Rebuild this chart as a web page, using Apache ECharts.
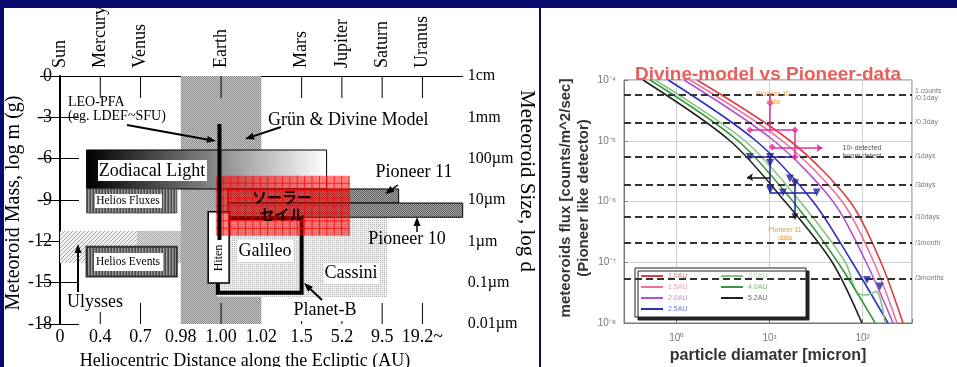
<!DOCTYPE html>
<html>
<head>
<meta charset="utf-8">
<script src="https://cdn.jsdelivr.net/npm/echarts@6/dist/echarts.min.js"></script>
<style>
html, body { margin: 0; padding: 0; background: #fff; }
#wrap { position: relative; width: 957px; height: 367px; overflow: hidden; background: #fff; }
.navy { position: absolute; background: #0a0a6e; z-index: 5; }
#left-chart { position: absolute; left: 0; top: 0; width: 539px; height: 367px; }
#right-chart { position: absolute; left: 541px; top: 0; width: 416px; height: 367px; }
</style>
</head>
<body>
<div id="wrap">
  <div id="left-chart"></div>
  <div id="right-chart"></div>
  <div class="navy" style="left:0;top:0;width:957px;height:8px;"></div>
  <div class="navy" style="left:0;top:0;width:4px;height:367px;"></div>
  <div class="navy" style="left:539px;top:0;width:2px;height:367px;"></div>
</div>
<script>
// 左右两张图
const leftChart = echarts.init(document.getElementById('left-chart'));
const rightChart = echarts.init(document.getElementById('right-chart'));

// ---------- left: meteoroid environment map ----------
const distLabels = ['0', '0.4', '0.7', '0.98', '1.00', '1.02', '1.5', '5.2', '9.5', '19.2~', ''];
const planetLabels = ['Sun', 'Mercury', 'Venus', '', 'Earth', '', 'Mars', 'Jupiter', 'Saturn', 'Uranus', ''];
const massValues = [0, -3, -6, -9, -12, -15, -18];
const sizeLabels = ['1cm', '1mm', '100µm', '10µm', '1µm', '0.1µm', '0.01µm'];
const tickPos = [1, 2, 4, 6, 7, 8, 9];

// regions: [x0, x1, yTop, yBottom] in (distance index, log m)
const earthBand = [3.00, 5.00, 0.00, -18.00];
const ulysses = [0.00, 1.91, -11.25, -13.57];
const galileo = [1.91, 7.08, -11.25, -13.57];
const cassini = [3.90, 8.12, -10.30, -16.04];
const zodiacal = [0.66, 6.62, -5.37, -8.20];
const heliosFlux = [0.66, 2.90, -8.20, -9.94];
const heliosEvent = [0.66, 2.90, -12.39, -14.56];
const pioneer11 = [4.17, 8.41, -8.20, -9.22];
const pioneer10 = [4.17, 10.00, -9.22, -10.25];
const planetB = [3.92, 6.00, -10.33, -15.73];
const hiten = [3.68, 4.20, -9.85, -15.02];
const solarSail = [3.87, 7.19, -7.24, -11.59];
const leoPfa = [3.96, -3.48, -11.90]; // x, yTop, yBottom

const serif = '"Liberation Serif", "DejaVu Serif", serif';

function pattern(size, paint) {
    const c = document.createElement('canvas');
    c.width = size;
    c.height = size;
    paint(c.getContext('2d'));
    return { image: c, repeat: 'repeat' };
}
function dots(light, dark, both) {
    return pattern(2, function (ctx) {
        ctx.fillStyle = light;
        ctx.fillRect(0, 0, 2, 2);
        ctx.fillStyle = dark;
        ctx.fillRect(0, 0, 1, 1);
        if (both) ctx.fillRect(1, 1, 1, 1);
    });
}
const stripes = pattern(3, function (ctx) {
    ctx.fillStyle = '#4a4a4a'; ctx.fillRect(0, 0, 1, 3);
    ctx.fillStyle = '#9c9c9c'; ctx.fillRect(1, 0, 1, 3);
    ctx.fillStyle = '#6c6c6c'; ctx.fillRect(2, 0, 1, 3);
});
const hatch = pattern(4, function (ctx) {
    ctx.fillStyle = '#f2f2f2'; ctx.fillRect(0, 0, 4, 4);
    ctx.fillStyle = '#a8a8a8';
    for (let i = 0; i < 4; i++) ctx.fillRect(3 - i, i, 1, 1);
});

function box(region, style, z) {
    return {
        type: 'custom', z: z, silent: true, clip: false,
        renderItem: function (params, api) {
            const a = api.coord([api.value(0), api.value(2)]);
            const b = api.coord([api.value(1), api.value(3)]);
            return {
                type: 'rect',
                shape: { x: a[0], y: a[1], width: b[0] - a[0], height: b[1] - a[1] },
                style: style
            };
        },
        data: [region]
    };
}

const sailSeries = {
    type: 'custom', z: 12, silent: true, clip: false,
    renderItem: function (params, api) {
        const a = api.coord([api.value(0), api.value(2)]);
        const b = api.coord([api.value(1), api.value(3)]);
        const kids = [{
            type: 'rect',
            shape: { x: a[0], y: a[1], width: b[0] - a[0], height: b[1] - a[1] },
            style: { fill: 'rgba(255,0,0,0.5)' }
        }];
        for (let x = a[0] + 7.4; x < b[0]; x += 7.4) {
            kids.push({ type: 'line', shape: { x1: x, y1: a[1], x2: x, y2: b[1] }, style: { stroke: 'rgba(255,0,0,0.75)', lineWidth: 1 } });
        }
        for (let y = a[1] + 7.5; y < b[1]; y += 7.5) {
            kids.push({ type: 'line', shape: { x1: a[0], y1: y, x2: b[0], y2: y }, style: { stroke: 'rgba(255,0,0,0.75)', lineWidth: 1 } });
        }
        return { type: 'group', children: kids };
    },
    data: [solarSail]
};

const leoSeries = {
    type: 'custom', z: 14, silent: true, clip: false,
    renderItem: function (params, api) {
        const a = api.coord([api.value(0), api.value(1)]);
        const b = api.coord([api.value(0), api.value(2)]);
        return { type: 'line', shape: { x1: a[0], y1: a[1], x2: b[0], y2: b[1] }, style: { stroke: '#000', lineWidth: 4 } };
    },
    data: [leoPfa]
};

// tick marks along top and bottom, bottom ones of different lengths
const bottomTickLen = [12, 21, 21, 3, 3, 21, 21];
const tickSeries = {
    type: 'custom', z: 15, silent: true, clip: false,
    renderItem: function (params, api) {
        const x = api.coord([api.value(0), 0])[0];
        const yt = api.coord([0, 0])[1];
        const yb = api.coord([0, -18])[1];
        return {
            type: 'group', children: [
                { type: 'line', shape: { x1: x, y1: yt, x2: x, y2: yt + 22 }, style: { stroke: '#000', lineWidth: 1 } },
                { type: 'line', shape: { x1: x, y1: yb, x2: x, y2: yb - api.value(1) }, style: { stroke: '#000', lineWidth: 1 } }
            ]
        };
    },
    data: tickPos.map(function (p, i) { return [p, bottomTickLen[i]]; })
};

function label(text, x, y, size, extra) {
    return Object.assign({
        type: 'text', x: x, y: y, z: 100, silent: true,
        style: { text: text, font: size + 'px ' + serif, fill: '#000', textAlign: 'center', textVerticalAlign: 'middle', align: 'center', verticalAlign: 'middle' }
    }, extra || {});
}
function leftLabel(text, x, y, size) {
    return {
        type: 'text', x: x, y: y, z: 100, silent: true,
        style: { text: text, font: size + 'px ' + serif, fill: '#000', textAlign: 'left', align: 'left', textVerticalAlign: 'middle', verticalAlign: 'middle' }
    };
}
function whiteBox(x, y, w, h) {
    return { type: 'rect', z: 99, silent: true, shape: { x: x, y: y, width: w, height: h }, style: { fill: '#fff' } };
}
function arrow(x1, y1, x2, y2, w) {
    const ang = Math.atan2(y2 - y1, x2 - x1);
    const h = 9, s = 3.5;
    const bx = x2 - h * Math.cos(ang), by = y2 - h * Math.sin(ang);
    return [
        { type: 'line', z: 100, silent: true, shape: { x1: x1, y1: y1, x2: bx, y2: by }, style: { stroke: '#000', lineWidth: w } },
        {
            type: 'polygon', z: 100, silent: true,
            shape: { points: [[x2, y2], [bx + s * Math.sin(ang), by - s * Math.cos(ang)], [bx - s * Math.sin(ang), by + s * Math.cos(ang)]] },
            style: { fill: '#000' }
        }
    ];
}

const leftGraphics = [].concat(
    [
        // axis titles
        label('Meteoroid Mass, log m (g)', 14, 203, 20, { rotation: Math.PI / 2 }),
        label('Meteoroid Size, log d', 527, 181, 21, { rotation: -Math.PI / 2 }),
        label('Heliocentric Distance along the Ecliptic (AU)', 245, 361, 18),
        // annotations
        leftLabel('LEO-PFA', 68, 102, 14),
        leftLabel('(eg. LDEF~SFU)', 68, 116, 14),
        leftLabel('Grün & Divine Model', 268, 120, 18),
        whiteBox(98, 160, 109, 21), label('Zodiacal Light', 152, 171, 18),
        whiteBox(95, 194, 67, 14), label('Helios Fluxes', 128, 201, 11.5),
        whiteBox(94, 253, 69, 18), label('Helios Events', 128, 262, 11.5),
        label('Ulysses', 95, 302, 18),
        label('Hiten', 218.5, 258, 12, { rotation: Math.PI / 2 }),
        whiteBox(237, 240, 56, 22), label('Galileo', 265, 251, 18),
        whiteBox(324, 263, 55, 21), label('Cassini', 351, 273, 18),
        label('Planet-B', 325, 310, 18),
        label('Pioneer 11', 414, 172, 18),
        label('Pioneer 10', 407, 239, 18),
        {
            type: 'text', x: 282, y: 197, z: 100, silent: true,
            style: { text: 'ソーラー', font: 'bold 15px "Noto Sans CJK JP"', fill: '#1a0000', textAlign: 'center', align: 'center', textVerticalAlign: 'middle', verticalAlign: 'middle' }
        },
        {
            type: 'text', x: 282, y: 214, z: 100, silent: true,
            style: { text: 'セイル', font: 'bold 15px "Noto Sans CJK JP"', fill: '#1a0000', textAlign: 'center', align: 'center', textVerticalAlign: 'middle', verticalAlign: 'middle' }
        }
    ],
    arrow(127, 125, 216, 141, 2),
    arrow(281, 127, 245, 139, 2),
    arrow(78, 292, 78, 244, 2),
    arrow(322, 300, 304, 283, 2),
    arrow(398, 185, 385, 194, 1.5),
    arrow(417, 232, 417, 217, 1.5)
);

const leftOption = {
    animation: false,
    grid: { left: 60, top: 76, width: 402.7, height: 248, outerBoundsMode: 'none', containLabel: false },
    xAxis: [
        {
            type: 'value', position: 'bottom', min: 0, max: 10, interval: 1,
            axisLine: { lineStyle: { color: '#000', width: 1 } },
            axisTick: { show: false }, splitLine: { show: false },
            axisLabel: { formatter: function (v) { return distLabels[v]; }, fontFamily: serif, fontSize: 18, color: '#000', margin: 4 }
        },
        {
            type: 'value', position: 'top', min: 0, max: 10, interval: 1,
            axisLine: { lineStyle: { color: '#000', width: 1 } },
            axisTick: { show: false }, splitLine: { show: false },
            axisLabel: { formatter: function (v) { return planetLabels[v]; }, rotate: 90, fontFamily: serif, fontSize: 18, color: '#000', margin: 8 }
        }
    ],
    yAxis: [
        {
            type: 'value', position: 'left', min: -18, max: 0, interval: 3,
            axisLine: { lineStyle: { color: '#000', width: 1 } },
            axisTick: { inside: true, length: 19, lineStyle: { color: '#000' } },
            splitLine: { show: false },
            axisLabel: { fontFamily: serif, fontSize: 18, color: '#000', margin: 8 }
        },
        {
            type: 'value', position: 'right', min: -18, max: 0, interval: 3,
            axisLine: { lineStyle: { color: '#000', width: 2 } },
            axisTick: { inside: true, length: 20, lineStyle: { color: '#000' } },
            splitLine: { show: false },
            axisLabel: { formatter: function (v) { return sizeLabels[massValues.indexOf(v)]; }, fontFamily: serif, fontSize: 16, color: '#000', margin: 5 }
        }
    ],
    series: [
        box(ulysses, { fill: hatch }, 1),
        box(galileo, { fill: dots('#dadada', '#acacac', true) }, 2),
        box(earthBand, { fill: dots('#c6c6c6', '#8c8c8c', true) }, 3),
        box(cassini, { fill: dots('#eeeeee', '#b8b8b8', false) }, 4),
        box(zodiacal, {
            fill: new echarts.graphic.LinearGradient(0, 0, 1, 0, [{ offset: 0, color: '#000' }, { offset: 1, color: '#fff' }]),
            stroke: '#000', lineWidth: 1
        }, 5),
        box(heliosFlux, { fill: stripes, stroke: '#555', lineWidth: 1 }, 6),
        box(heliosEvent, { fill: stripes, stroke: '#333', lineWidth: 2 }, 6),
        box(pioneer11, { fill: dots('#a6a6a6', '#5e5e5e', true), stroke: '#000', lineWidth: 1 }, 7),
        box(pioneer10, { fill: dots('#a6a6a6', '#5e5e5e', true), stroke: '#000', lineWidth: 1 }, 7),
        box(planetB, { fill: null, stroke: '#000', lineWidth: 4 }, 8),
        box(hiten, { fill: '#fff', stroke: '#000', lineWidth: 1.5 }, 9),
        sailSeries,
        leoSeries,
        tickSeries
    ],
    graphic: leftGraphics
};
leftChart.setOption(leftOption);

// ---------- right: Divine model vs Pioneer data ----------
const modelNames = ['1.0AU', '1.5AU', '2.0AU', '2.5AU', '3.0AU', '4.0AU', '5.2AU'];
const modelColors = ['#e03c3c', '#f0709c', '#b452d2', '#2e2ec4', '#86c486', '#3a9a3a', '#222222'];
const model10 = [[1.65, 1e-4], [16.5, 1e-5], [73, 1e-6], [157, 1e-7], [271, 1e-8]];
const model15 = [[1.39, 1e-4], [13.6, 1e-5], [60, 1e-6], [132, 1e-7], [234, 1e-8]];
const model20 = [[1.20, 1e-4], [11.1, 1e-5], [48, 1e-6], [109, 1e-7], [212, 1e-8]];
const model25 = [[0.81, 1e-4], [7.1, 1e-5], [29.2, 1e-6], [77, 1e-7], [187, 1e-8]];
const model30 = [[0.585, 1e-4], [5.4, 1e-5], [21.2, 1e-6], [65, 1e-7], [86, 3.2e-8], [110, 2.9e-8], [140, 3.3e-8], [174, 1e-8]];
const model40 = [[0.516, 1e-4], [4.56, 1e-5], [17.8, 1e-6], [54, 1e-7], [136, 1e-8]];
const model52 = [[0.434, 1e-4], [3.74, 1e-5], [14.6, 1e-6], [47, 1e-7], [98, 1e-8]];
const modelData = [model10, model15, model20, model25, model30, model40, model52];

const diamRange = [0.271, 339];
const fluxLevels = [5.7e-5, 2.0e-5, 5.5e-6, 1.9e-6, 5.6e-7, 2.1e-7, 5.4e-8];
const fluxLevelLabels = ['1 counts\n/0.1day', '/0.3day', '/1days', '/3days', '/10days', '/1month', '/3months'];

const pioneer11Pts = [[10.1, 4.2e-5], [6.1, 1.5e-5], [18.7, 1.5e-5], [10.6, 7.9e-6], [18.7, 5.4e-6]];
const pioneer10Pts = [[6.1, 5.4e-6], [10.1, 5.4e-6], [10.1, 4.3e-6], [16.5, 2.4e-6], [18.7, 2.0e-6], [10.1, 1.55e-6], [13.9, 1.4e-6], [32, 1.4e-6], [111, 5.1e-8], [153, 4.0e-8]];
const blackPts = [[18.7, 5.6e-7]];
const pinkBars = [[[10.1, 6.0e-5], [10.1, 1.5e-5]], [[6.1, 1.5e-5], [18.7, 1.5e-5]], [[18.7, 1.5e-5], [18.7, 5.4e-6]]];
const pinkArrows = [[[10.6, 7.6e-6], [37, 7.6e-6]]];
const blueBars = [[[10.1, 5.4e-6], [10.1, 1.4e-6]], [[18.7, 2.4e-6], [18.7, 5.6e-7]], [[6.1, 5.4e-6], [18.7, 5.4e-6]], [[10.1, 1.4e-6], [32, 1.4e-6]]];
const blackArrows = [[[10.1, 2.5e-6], [5.7, 2.5e-6]]];

const supDigits = { '0': '⁰', '1': '¹', '2': '²', '3': '³', '4': '⁴', '5': '⁵', '6': '⁶', '7': '⁷', '8': '⁸', '9': '⁹', '-': '⁻' };
function powLabel(v) {
    const e = Math.log10(v);
    if (Math.abs(e - Math.round(e)) > 1e-6) return '';
    return '10' + String(Math.round(e)).split('').map(function (c) { return supDigits[c]; }).join('');
}
function segs(list, color, endSymbol) {
    return list.map(function (s) {
        return [
            { coord: s[0], lineStyle: { color: color, width: 1.5, type: 'solid' }, symbol: 'none' },
            { coord: s[1], symbol: endSymbol }
        ];
    });
}

const sans = '"Liberation Sans", Arial, sans-serif';
const modelSeries = modelNames.map(function (name, i) {
    return {
        name: name, type: 'line', data: modelData[i], smooth: 0.3,
        showSymbol: false, symbol: 'none',
        lineStyle: { color: modelColors[i], width: 1.6 }, itemStyle: { color: modelColors[i] }, z: 3
    };
});

const levelSeries = {
    name: 'levels', type: 'line', data: [], z: 2,
    markLine: {
        silent: true, symbol: ['none', 'none'],
        lineStyle: { type: [7, 4], color: '#333', width: 1.8 },
        label: { position: 'end', formatter: '{b}', fontSize: 7, color: '#777', distance: 3 },
        data: fluxLevels.map(function (v, i) {
            return [{ coord: [diamRange[0], v], name: fluxLevelLabels[i] }, { coord: [diamRange[1], v] }];
        })
    }
};

function centerText(text, x, y, font, fill, rotation, lineHeight) {
    return {
        type: 'text', x: x, y: y, z: 50, silent: true, rotation: rotation || 0,
        style: { text: text, font: font, fill: fill, textAlign: 'center', align: 'center', textVerticalAlign: 'middle', verticalAlign: 'middle', lineHeight: lineHeight || 8 }
    };
}

const rightOption = {
    animation: false,
    title: {
        text: 'Divine-model vs Pioneer-data', left: 89, top: 60,
        textStyle: { color: '#e8605c', fontSize: 19, fontWeight: 'bold', fontFamily: sans }
    },
    grid: { left: 83, top: 80, right: 45, bottom: 44, show: true, borderColor: '#777', borderWidth: 1, outerBoundsMode: 'none', containLabel: false },
    legend: {
        data: modelNames.map(function (n, i) { return { name: n, textStyle: { color: modelColors[i] } }; }),
        orient: 'vertical', left: 94, top: 268, height: 44,
        icon: 'rect', itemWidth: 22, itemHeight: 2, itemGap: 3,
        padding: [4, 8, 4, 6],
        backgroundColor: '#fff', borderColor: '#222', borderWidth: 1,
        shadowColor: '#222', shadowBlur: 0, shadowOffsetX: 3, shadowOffsetY: 3,
        textStyle: { fontSize: 7, width: 50, lineHeight: 8, fontFamily: sans, opacity: 0.7 }
    },
    xAxis: {
        type: 'log', min: diamRange[0], max: diamRange[1],
        axisLine: { lineStyle: { color: '#777' } },
        axisTick: { inside: true, length: 4 },
        splitLine: { show: true, lineStyle: { color: '#cfcfcf' } },
        axisLabel: { formatter: powLabel, fontSize: 10, color: '#777', margin: 10, fontFamily: sans },
        name: 'particle diamater [micron]', nameLocation: 'middle', nameGap: 24,
        nameTextStyle: { fontSize: 16, fontWeight: 'bold', color: '#333', fontFamily: sans }
    },
    yAxis: {
        type: 'log', min: 1e-8, max: 1e-4,
        axisLine: { lineStyle: { color: '#777' } },
        axisTick: { inside: true, length: 4 },
        splitLine: { show: true, lineStyle: { color: '#cfcfcf' } },
        axisLabel: { formatter: powLabel, fontSize: 10, color: '#777', margin: 8, fontFamily: sans }
    },
    series: modelSeries.concat([
        levelSeries,
        {
            name: 'Pioneer 11', type: 'scatter', data: pioneer11Pts, symbol: 'diamond', symbolSize: 7,
            itemStyle: { color: '#e0309a' }, z: 6,
            markLine: { silent: true, data: segs(pinkBars, '#e0309a', 'none').concat(segs(pinkArrows, '#e0309a', 'arrow')), symbolSize: 6 }
        },
        {
            name: 'Pioneer 10', type: 'scatter', data: pioneer10Pts, symbol: 'triangle', symbolRotate: 180, symbolSize: 8,
            itemStyle: { color: '#22229a' }, z: 6,
            markLine: { silent: true, data: segs(blueBars, '#22229a', 'none').concat(segs(blackArrows, '#111', 'arrow')), symbolSize: 6 }
        },
        {
            name: 'other', type: 'scatter', data: blackPts, symbol: 'triangle', symbolRotate: 180, symbolSize: 7,
            itemStyle: { color: '#111' }, z: 6
        }
    ]),
    graphic: [
        centerText('meteoroids flux [counts/m^2/sec]\n(Pioneer like detector)', 34, 198, 'bold 15px ' + sans, '#333', Math.PI / 2, 18),
        centerText('Pioneer 10\ndata', 232, 98, '7px ' + sans, '#f0963c'),
        centerText('Pioneer 11\ndata', 244, 234, '7px ' + sans, '#f0963c'),
        centerText('10¹ detected\nboom detect', 321, 152, '7px ' + sans, '#555')
    ]
};
rightChart.setOption(rightOption);
</script>
</body>
</html>
